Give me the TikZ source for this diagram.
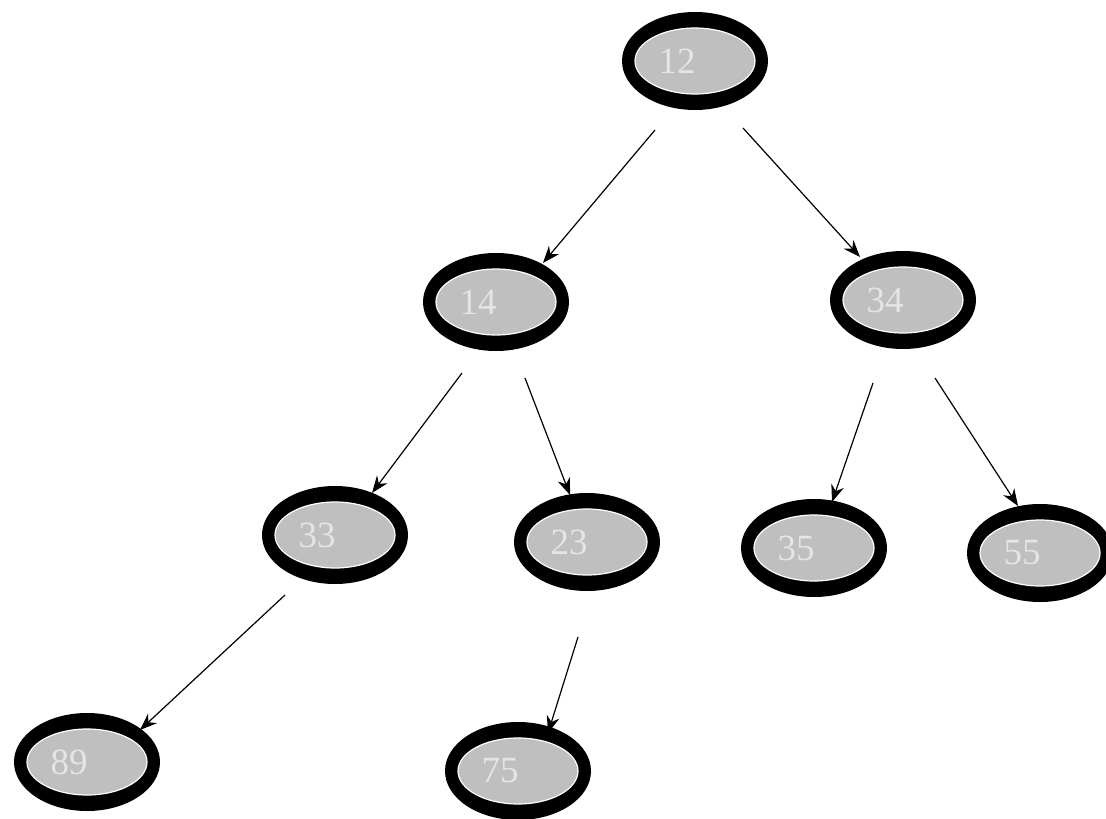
\documentclass[tikz,border=0pt]{standalone}
\usepackage{fontspec}
\setmainfont{Liberation Serif}
\usetikzlibrary{shapes.geometric,arrows.meta,calc}
\tikzset{
  tnode/.style={ellipse, fill=black, minimum width=146pt, minimum height=98pt, inner sep=0pt,
    text=gray!20, font=\fontsize{37}{37}\selectfont,
    path picture={
      \fill[gray!50] (path picture bounding box.center) ellipse (60pt and 33pt);
      \draw[white, line width=1.2pt] (path picture bounding box.center) ellipse (60pt and 33pt);
    }},
  conn/.style={line width=1.2pt, -{Stealth[length=17pt,width=13pt]}}
}
\begin{document}
\begin{tikzpicture}[x=1pt,y=-1pt]
\useasboundingbox (0,0) rectangle (1106,819);
\node[tnode] (n12) at (695,61) {\hspace*{-36pt}12};
\node[tnode] (n14) at (496,302) {\hspace*{-36pt}14};
\node[tnode] (n34) at (903,300) {\hspace*{-36pt}34};
\node[tnode] (n33) at (335,535) {\hspace*{-36pt}33};
\node[tnode] (n23) at (587,542) {\hspace*{-36pt}23};
\node[tnode] (n35) at (814,548) {\hspace*{-36pt}35};
\node[tnode] (n55) at (1040,553) {\hspace*{-36pt}55};
\node[tnode] (n89) at (87,762) {\hspace*{-36pt}89};
\node[tnode] (n75) at (518,771) {\hspace*{-36pt}75};
\draw[conn] ($(n12)+(-40,69)$) -- ($(n14)+(47,-39)$);
\draw[conn] ($(n12)+(48,67)$) -- ($(n34)+(-43,-43)$);
\draw[conn] ($(n14)+(-34,71)$) -- ($(n33)+(37,-42)$);
\draw[conn] ($(n14)+(29,76)$) -- ($(n23)+(-17,-47)$);
\draw[conn] ($(n34)+(-30,83)$) -- ($(n35)+(18,-46)$);
\draw[conn] ($(n34)+(32,78)$) -- ($(n55)+(-22,-47)$);
\draw[conn] ($(n33)+(-50,60)$) -- ($(n89)+(53,-32)$);
\draw[conn] ($(n23)+(-9,95)$) -- ($(n75)+(30,-38)$);
\end{tikzpicture}
\end{document}
